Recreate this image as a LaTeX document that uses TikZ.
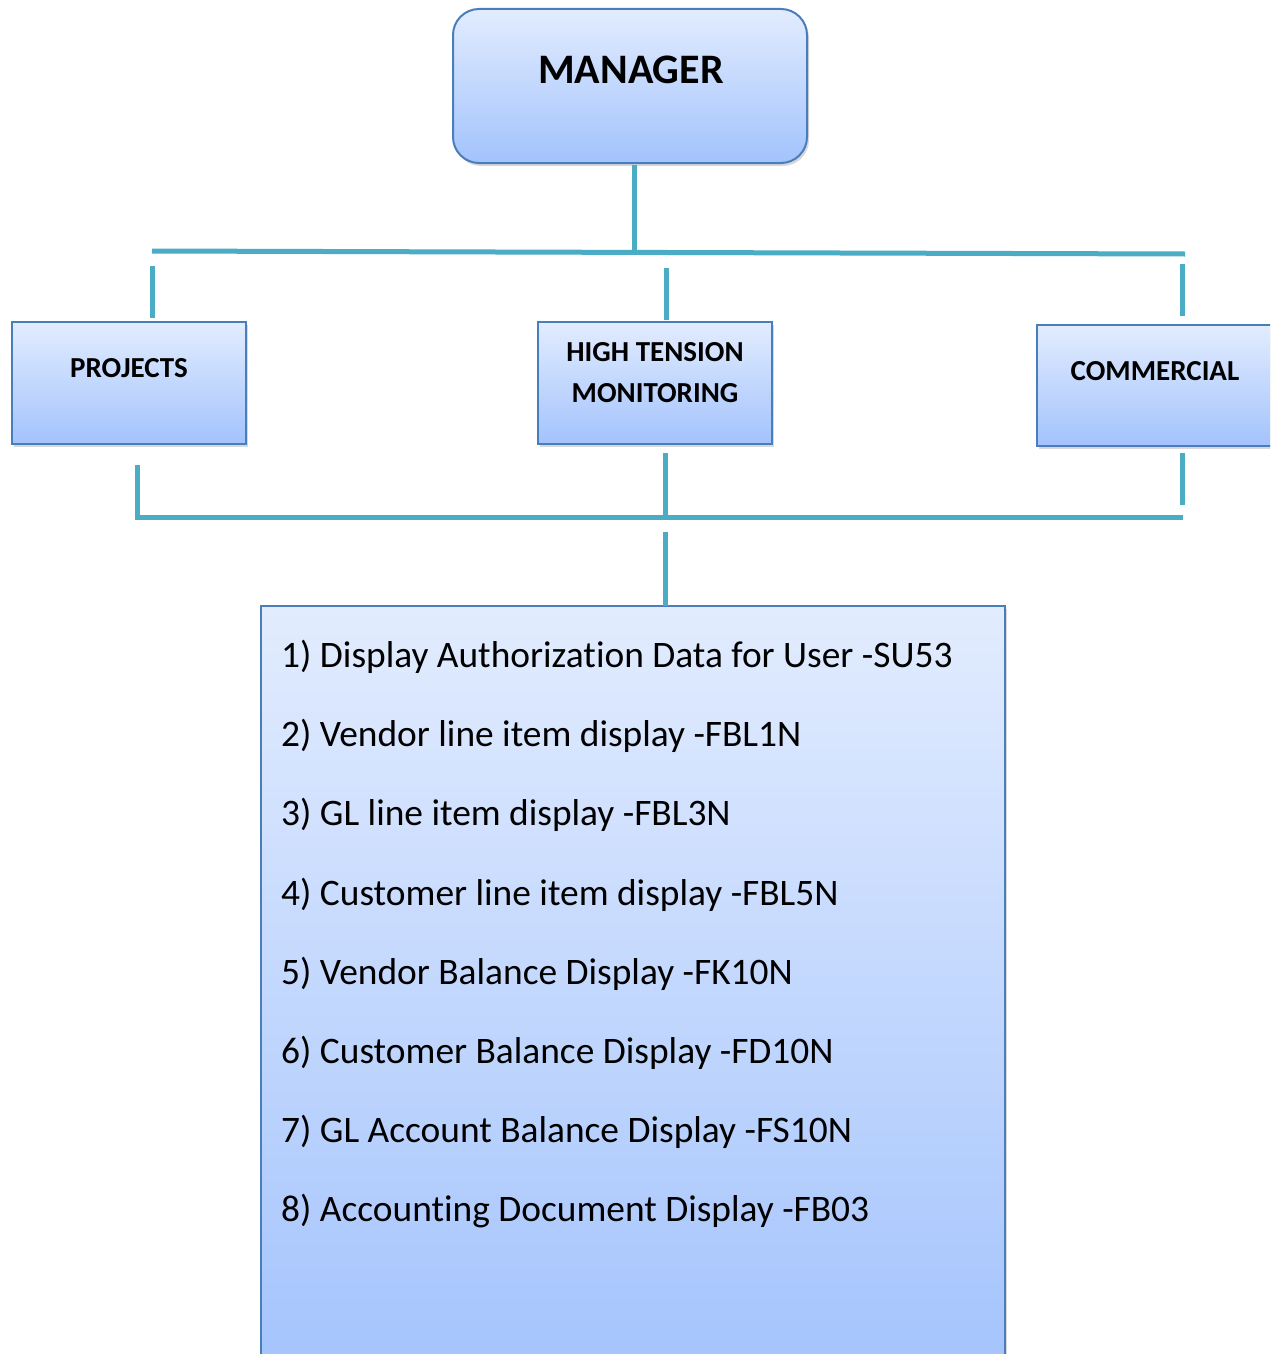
\documentclass[tikz,border=0pt]{standalone}
\usepackage{fontspec}
\setmainfont{Carlito}[RawFeature={-liga}]
\usetikzlibrary{shadows}
\definecolor{lineC}{HTML}{4BACC6}
\definecolor{borderC}{HTML}{4A7EBB}
\definecolor{topC}{HTML}{E2ECFE}
\definecolor{botC}{HTML}{A3C3FD}
\begin{document}
\begin{tikzpicture}[x=1pt,y=-1pt,
 box/.style={draw=borderC, line width=2pt, top color=topC, bottom color=botC,
   drop shadow={shadow xshift=2pt,shadow yshift=-3pt,opacity=0.3},
   inner sep=0pt, outer sep=0pt, anchor=north west},
 conn/.style={draw=lineC, line width=5pt},
 lbl/.style={font=\bfseries\fontsize{29}{41}\selectfont, inner sep=0pt, align=center},
 item/.style={font=\fontsize{37.4}{44}\selectfont, inner sep=0pt, anchor=base west}]
\useasboundingbox (0,0) rectangle (1270,1354);
\clip (0,0) rectangle (1270,1354);
\fill[white] (0,0) rectangle (1270,1354);

% boxes
\node[box, rounded corners=26pt, minimum width=354pt, minimum height=154pt] (mgr) at (453,9) {};
\node[box, minimum width=234pt, minimum height=122pt] (proj) at (12,322) {};
\node[box, minimum width=234pt, minimum height=122pt] (htm) at (538,322) {};
\node[box, minimum width=260pt, minimum height=121pt] (comm) at (1037,325) {};
\node[box, minimum width=744pt, minimum height=780pt] (list) at (261,606) {};

% labels
\node[lbl, font=\bfseries\fontsize{42}{50}\selectfont] (mgrT) at (631,70) {MANAGER};
\node[lbl] (projT) at (129,368) {PROJECTS};
\node[lbl] (htmT) at (655,372.5) {HIGH TENSION\\MONITORING};
\node[lbl] (commT) at (1155,371) {COMMERCIAL};

\node[item] (i1) at (281,667) {1) Display Authorization Data for User -SU53};
\node[item] (i2) at (281,746) {2) Vendor line item display -FBL1N};
\node[item] (i3) at (281,825) {3) GL line item display -FBL3N};
\node[item] (i4) at (281,905) {4) Customer line item display -FBL5N};
\node[item] (i5) at (281,984) {5) Vendor Balance Display -FK10N};
\node[item] (i6) at (281,1063) {6) Customer Balance Display -FD10N};
\node[item] (i7) at (281,1142) {7) GL Account Balance Display -FS10N};
\node[item] (i8) at (281,1221) {8) Accounting Document Display -FB03};

% connector coordinates
\coordinate (mgrDown) at (634,165);
\coordinate (topMid) at (634,252);
\coordinate (topL) at (152,251);
\coordinate (topR) at (1185,254);
\coordinate (pUp1) at (152,266);
\coordinate (pUp2) at (152,318);
\coordinate (hUp1) at (666,268);
\coordinate (hUp2) at (666,320);
\coordinate (cUp1) at (1182,264);
\coordinate (cUp2) at (1182,316);
\coordinate (pDn1) at (137,465);
\coordinate (pDn2) at (137,517);
\coordinate (hDn1) at (665,453);
\coordinate (hDn2) at (665,517);
\coordinate (cDn1) at (1182,453);
\coordinate (cDn2) at (1182,505);
\coordinate (botR) at (1183,517);
\coordinate (lUp1) at (665,532);
\coordinate (lUp2) at (665,606);

\draw[conn] (mgrDown) -- (topMid);
\draw[conn] (topL) -- (topR);
\draw[conn] (pUp1) -- (pUp2);
\draw[conn] (hUp1) -- (hUp2);
\draw[conn] (cUp1) -- (cUp2);
\draw[conn] (pDn1) -- (pDn2) -- (botR);
\draw[conn] (hDn1) -- (hDn2);
\draw[conn] (cDn1) -- (cDn2);
\draw[conn] (lUp1) -- (lUp2);
\end{tikzpicture}
\end{document}
